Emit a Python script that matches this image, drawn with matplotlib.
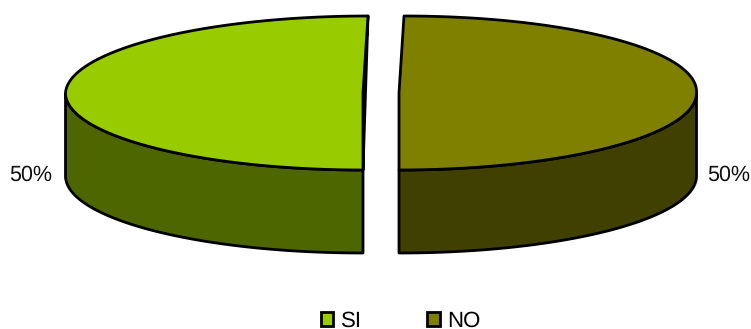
import numpy as np
import matplotlib
matplotlib.use("Agg")
import matplotlib.pyplot as plt
from matplotlib.patches import Patch, Polygon

plt.rcParams['font.family'] = ['Liberation Sans', 'DejaVu Sans']
plt.rcParams['text.hinting'] = 'none'

labels = ["SI", "NO"]
values = [50, 50]
top_colors = ["#99CC00", "#808000"]
side_colors = ["#4D6600", "#404000"]

# pie geometry in pixels
cx, cy = 381, 93
rx, ry = 297.5, 77
depth = 83
explode = 18
lean = 5
lw = 2.0

fig = plt.figure(figsize=(7.51, 3.29), dpi=100)
ax = fig.add_axes([0, 0, 1, 1])
ax.set_xlim(0, 751)
ax.set_ylim(329, 0)
ax.axis("off")


def rim(x0, t):
    # the far half of the rim leans a little to the right
    x = x0 + rx * np.cos(t) + lean * np.clip(np.sin(t), 0, None)
    y = cy - ry * np.sin(t)
    return x, y


def draw_poly(pts, color, z):
    ax.add_patch(Polygon(pts, closed=True, facecolor=color, edgecolor="black",
                         linewidth=lw, joinstyle="round", zorder=z))


start = 90.0
total = sum(values)
for i, v in enumerate(values):
    sweep = 360.0 * v / total
    mid = np.radians(start + sweep / 2)
    x0 = cx + explode * np.cos(mid)
    t = np.radians(np.linspace(start, start + sweep, 240))
    x, y = rim(x0, t)

    # outer wall, only the near half of the rim shows
    near = np.sin(t) <= 1e-9
    xn, yn = x[near], y[near]
    wall = np.column_stack([np.r_[xn, xn[::-1]], np.r_[yn, yn[::-1] + depth]])
    draw_poly(wall, side_colors[i], 2)

    # cut face seen as a sliver on the left slice
    if np.cos(mid) < 0:
        draw_poly([(x[0], y[0]), (x0, cy), (x[-1], y[-1])], side_colors[i], 1)

    top = np.column_stack([np.r_[x0, x], np.r_[cy, y]])
    draw_poly(top, top_colors[i], 3)

    # percent labels sit beside the wall
    side = np.sign(np.cos(mid))
    pct = "%d%%" % round(100 * v / total)
    xpos = 31 if side < 0 else 729
    ax.text(xpos, 175, pct, ha="center", va="center", fontsize=15.5,
            color="#111111")
    start += sweep

handles = [Patch(facecolor=c, edgecolor="black", linewidth=lw) for c in top_colors]
fig.legend(handles, labels, loc="lower center", bbox_to_anchor=(0.5335, -0.007), ncol=2,
           frameon=False, fontsize=16, handlelength=0.56, handleheight=0.56,
           handletextpad=0.34, columnspacing=2.95, borderpad=0, borderaxespad=0)

fig.savefig("out.png", dpi=100)
